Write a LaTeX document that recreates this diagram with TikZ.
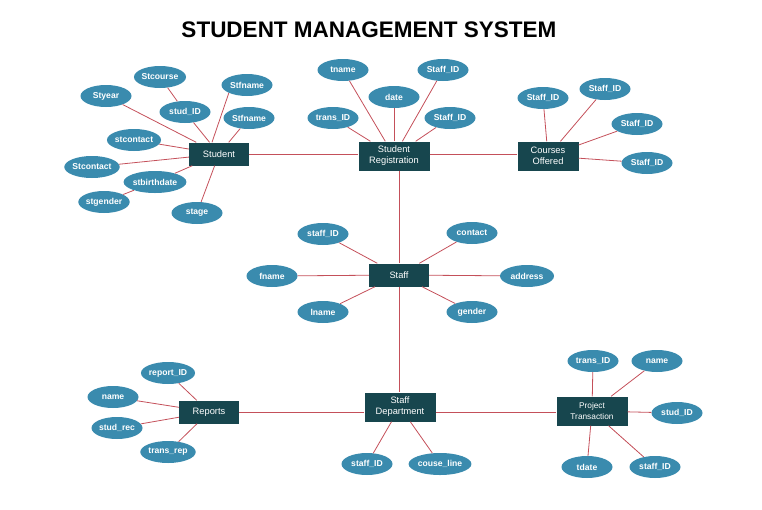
\documentclass[tikz,border=0pt]{standalone}
\usepackage{fontspec}
\setmainfont{Liberation Sans}
\usepackage{xcolor}
\usetikzlibrary{shapes.geometric,positioning}
\definecolor{entdark}{HTML}{17464E}
\definecolor{attrblue}{HTML}{3A8BAE}
\definecolor{linkred}{HTML}{C4505A}

\begin{document}
\begin{tikzpicture}[x=1pt,y=-1pt,
  ent/.style={fill=entdark,text=white,minimum width=60pt,minimum height=23pt,inner sep=1pt,align=center,font=\fontsize{9.3}{11}\selectfont},
  enttwo/.style={ent,minimum width=71pt,minimum height=29pt},
  attr/.style={ellipse,fill=attrblue,text=white,minimum width=51pt,minimum height=22pt,inner sep=0pt,font=\fontsize{8.6}{10}\selectfont\bfseries},
  link/.style={linkred,line width=0.8pt}]
\useasboundingbox (0,0) rectangle (762,509);
\node (title) at (369,30) {\fontsize{22.5}{26}\selectfont\bfseries STUDENT MANAGEMENT SYSTEM};
% entities
\node[ent] (student) at (219,154) {Student};
\node[enttwo] (sreg) at (394,156) {Student\\Registration};
\node[enttwo,minimum width=61pt] (courses) at (548,156) {Courses\\Offered};
\node[ent] (staff) at (399,275) {Staff};
\node[ent] (reports) at (209,412) {Reports};
\node[enttwo] (sdept) at (400,407) {Staff\\Department};
\node[enttwo] (ptrans) at (592,411) {\fontsize{8.3}{10}\selectfont Project\\\fontsize{8.3}{10}\selectfont Transaction};
% student attributes
\node[attr] (stcourse) at (160,77) {Stcourse};
\node[attr] (stfnameA) at (247,85) {Stfname};
\node[attr] (styear) at (106,96) {Styear};
\node[attr] (studid) at (185,112) {stud\_ID};
\node[attr] (stfnameB) at (249,118) {Stfname};
\node[attr] (stcontactA) at (134,140) {stcontact};
\node[attr] (stcontactB) at (92,167) {Stcontact};
\node[attr,minimum width=53pt] (stbirth) at (155,182) {stbirthdate};
\node[attr] (stgender) at (104,202) {stgender};
\node[attr] (stage) at (197,213) {stage};
% registration attributes
\node[attr] (tname) at (343,70) {tname};
\node[attr] (regstaffA) at (443,70) {Staff\_ID};
\node[attr] (date) at (394,97) {date};
\node[attr] (transid) at (333,118) {trans\_ID};
\node[attr] (regstaffB) at (450,118) {Staff\_ID};
% courses attributes
\node[attr] (cstaffA) at (543,98) {Staff\_ID};
\node[attr] (cstaffB) at (605,89) {Staff\_ID};
\node[attr] (cstaffC) at (637,124) {Staff\_ID};
\node[attr] (cstaffD) at (647,163) {Staff\_ID};
% staff attributes
\node[attr] (staffid) at (323,234) {staff\_ID};
\node[attr] (contact) at (472,233) {contact};
\node[attr] (fname) at (272,276) {fname};
\node[attr,minimum width=54pt] (address) at (527,276) {address};
\node[attr] (lname) at (323,312) {lname};
\node[attr] (gender) at (472,312) {gender};
% reports attributes
\node[attr] (reportid) at (168,373) {report\_ID};
\node[attr] (rname) at (113,397) {name};
\node[attr] (studrec) at (117,428) {stud\_rec};
\node[attr] (transrep) at (168,452) {trans\_rep};
% department attributes
\node[attr] (dstaffid) at (367,464) {staff\_ID};
\node[attr,minimum width=53pt] (couseline) at (440,464) {couse\_line};
% project transaction attributes
\node[attr] (ptransid) at (593,361) {trans\_ID};
\node[attr] (pname) at (657,361) {name};
\node[attr] (pstudid) at (677,413) {stud\_ID};
\node[attr] (tdate) at (587,467) {tdate};
\node[attr] (pstaffid) at (655,467) {staff\_ID};
% relationships
\draw[link] (student.east) -- (student.east -| sreg.west);
\draw[link] (sreg.east |- student.east) -- (courses.west |- student.east);
\draw[link] (staff.north) -- (staff.north |- sreg.south);
\draw[link] (staff.south) -- (staff.south |- sdept.north);
\draw[link] (reports.east) -- (reports.east -| sdept.west);
\draw[link] (sdept.east |- reports.east) -- (ptrans.west |- reports.east);
% attribute links
\draw[link] ([xshift=-7pt]student.north) -- (stfnameA.south west);
\draw[link] (student) -- (styear);
\draw[link] (student) -- (studid);
\draw[link] (studid) -- (stcourse);
\draw[link] (student) -- (stfnameB);
\draw[link] (student) -- (stcontactA);
\draw[link] (student) -- (stcontactB);
\draw[link] (student) -- (stbirth);
\draw[link] (stbirth) -- (stgender);
\draw[link] (student) -- (stage);
\draw[link] (sreg) -- (tname);
\draw[link] (sreg) -- (regstaffA);
\draw[link] (sreg) -- (date);
\draw[link] (sreg) -- (transid);
\draw[link] (sreg) -- (regstaffB);
\draw[link] (courses) -- (cstaffA);
\draw[link] (courses) -- (cstaffB);
\draw[link] (courses) -- (cstaffC);
\draw[link] (courses) -- (cstaffD);
\draw[link] (staff) -- (staffid);
\draw[link] (staff) -- (contact);
\draw[link] (staff) -- (fname);
\draw[link] (staff) -- (address);
\draw[link] (staff) -- (lname);
\draw[link] (staff) -- (gender);
\draw[link] (reports) -- (reportid);
\draw[link] (reports) -- (rname);
\draw[link] (reports) -- (studrec);
\draw[link] (reports) -- (transrep);
\draw[link] (sdept) -- (dstaffid);
\draw[link] (sdept) -- (couseline);
\draw[link] (ptrans) -- (ptransid);
\draw[link] (ptrans) -- (pname);
\draw[link] (ptrans) -- (pstudid);
\draw[link] (ptrans) -- (tdate);
\draw[link] (ptrans) -- (pstaffid);
\end{tikzpicture}
\end{document}
